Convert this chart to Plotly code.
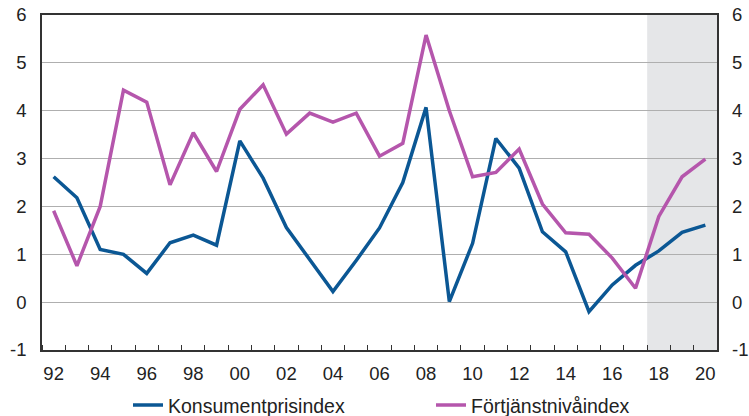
import plotly.graph_objects as go

years = list(range(1992, 2021))
kpi = [2.62, 2.18, 1.10, 1.00, 0.60, 1.24, 1.40, 1.19, 3.37, 2.59,
       1.56, 0.90, 0.22, 0.87, 1.55, 2.50, 4.07, 0.01, 1.23, 3.42,
       2.80, 1.47, 1.05, -0.20, 0.36, 0.77, 1.07, 1.46, 1.61]
fni = [1.91, 0.76, 2.00, 4.43, 4.18, 2.45, 3.54, 2.73, 4.03, 4.54,
       3.51, 3.95, 3.76, 3.95, 3.05, 3.32, 5.58, 4.00, 2.62, 2.71,
       3.20, 2.05, 1.45, 1.42, 0.92, 0.29, 1.79, 2.62, 2.99]
tick_years = list(range(1992, 2021, 2))
tick_text = [str(y)[2:] for y in tick_years]
y_ticks = [-1, 0, 1, 2, 3, 4, 5, 6]
y_text = ["-1", "0", "1", "2", "3", "4", "5", "6"]
forecast_start = 2017.5
forecast_end = 2020.5

BLUE = "#0B5794"
PINK = "#B556AC"
FONT = "Liberation Sans, Arial, sans-serif"

fig = go.Figure()
fig.add_trace(go.Scatter(x=years, y=kpi, mode="lines", name="Konsumentprisindex",
                         line=dict(color=BLUE, width=3.5), legend="legend"))
fig.add_trace(go.Scatter(x=years, y=fni, mode="lines", name="Förtjänstnivåindex",
                         line=dict(color=PINK, width=3.5), legend="legend2"))
# helper trace to activate right axis
fig.add_trace(go.Scatter(x=years, y=kpi, mode="lines", yaxis="y2", showlegend=False,
                         line=dict(width=0, color="rgba(0,0,0,0)"), hoverinfo="skip"))

fig.add_shape(type="rect", xref="x", yref="paper", x0=forecast_start, x1=forecast_end,
              y0=0, y1=1, fillcolor="#E5E6E8", line=dict(width=0), layer="below")

legend_common = dict(orientation="h", yanchor="middle", y=-0.165, xanchor="left",
                     font=dict(size=19.5, color="#222222"), itemwidth=30,
                     bgcolor="rgba(0,0,0,0)", borderwidth=0)

fig.update_layout(
    width=749, height=416,
    margin=dict(l=42, r=32, t=15, b=66, autoexpand=False),
    paper_bgcolor="white", plot_bgcolor="white",
    font=dict(family=FONT, size=18.5, color="#222222"),
    xaxis=dict(range=[1991.5, 2020.5], tickvals=tick_years, ticktext=tick_text,
               ticks="", showgrid=False, zeroline=False,
               showline=True, linecolor="#333333", linewidth=1.5, mirror=True,
               minor=dict(tick0=1991.5, dtick=1, ticks="inside", ticklen=5,
                          tickcolor="#333333", tickwidth=1, showgrid=False),
               tickfont=dict(size=18.5), ticklabelstandoff=6),
    yaxis=dict(range=[-1, 6], tickvals=y_ticks, ticktext=y_text, showgrid=True,
               gridcolor="#AFAFAF", gridwidth=1, zeroline=False, showline=True,
               linecolor="#333333", linewidth=1.5, mirror=True, ticks="",
               tickfont=dict(size=18.5), ticklabelstandoff=10),
    yaxis2=dict(range=[-1, 6], tickvals=y_ticks, ticktext=y_text, overlaying="y",
                side="right", showgrid=False, zeroline=False, showline=False, ticks="",
                tickfont=dict(size=18.5), ticklabelstandoff=14),
    legend=dict(legend_common, x=(128 - 42) / 675),
    legend2=dict(legend_common, x=(431 - 42) / 675),
)

fig.write_html("out.html", config={"displayModeBar": False},
               post_script="document.body.style.margin='0';")
